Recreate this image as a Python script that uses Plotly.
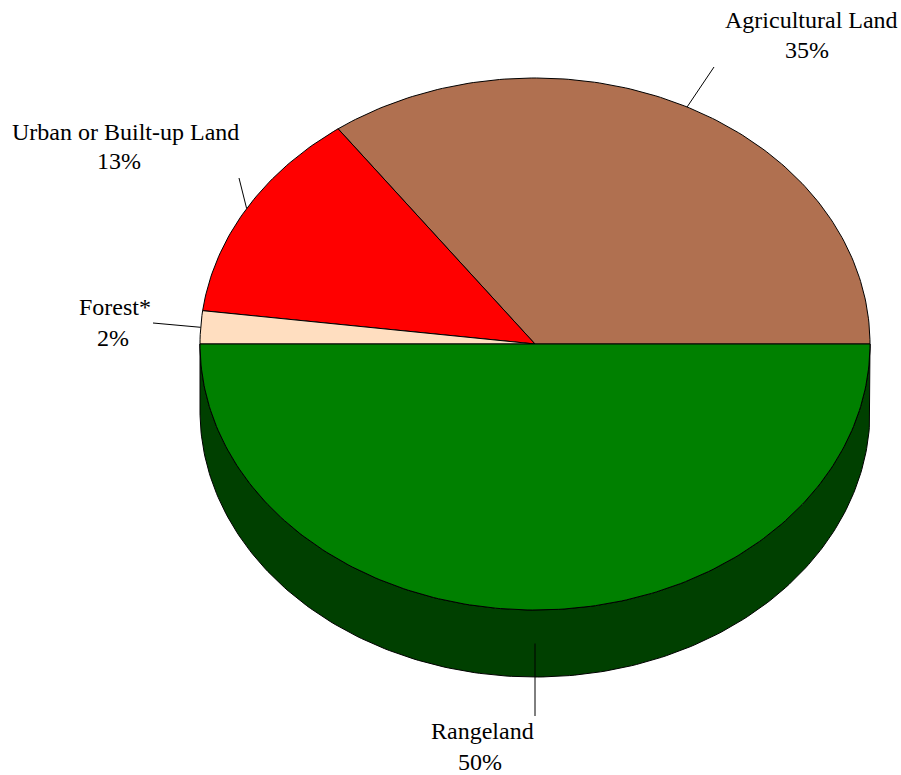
import numpy as np
import plotly.graph_objects as go

# ---- data ----
categories = ["Agricultural Land", "Urban or Built-up Land", "Forest*", "Rangeland"]
values = [35, 13, 2, 50]
top_colors = ["#B07050", "#FF0000", "#FFDEC0", "#008000"]
side_colors = ["#583828", "#800000", "#806F60", "#004000"]

# label placement (layout only): (x, y) of name line and of percent line
name_pos = [(811, 20), (125, 131.5), (114.5, 306.5), (482, 730.5)]
pct_pos = [(807, 50), (119, 160.5), (113, 337.5), (480, 762)]
leader_end = [(714, 67), (239, 178), (153, 323), (535, 716)]

# ---- geometry (layout) ----
W, H = 901, 775
cx, cy = 535, 344
rx, ry = 335, 266
depth = 67

total = float(sum(values))
fr = np.array(values) / total
starts = np.concatenate([[0], np.cumsum(fr)[:-1]]) * 2 * np.pi
ends = np.cumsum(fr) * 2 * np.pi


def ept(t, dy=0.0):
    return cx + rx * np.cos(t), cy - ry * np.sin(t) + dy


fig = go.Figure()

# side walls (visible only for angles in [pi, 2pi])
for i in range(len(values)):
    a0 = max(starts[i], np.pi)
    a1 = min(ends[i], 2 * np.pi)
    if a1 <= a0:
        continue
    t = np.linspace(a0, a1, 200)
    xt, yt = ept(t)
    xb, yb = ept(t[::-1], depth)
    xs = np.concatenate([xt, xb, xt[:1]])
    ys = np.concatenate([yt, yb, yt[:1]])
    fig.add_trace(go.Scatter(x=xs, y=ys, mode="lines", fill="toself",
                             fillcolor=side_colors[i],
                             line=dict(color="black", width=1),
                             hoverinfo="skip", showlegend=False))

# top faces
for i in range(len(values)):
    t = np.linspace(starts[i], ends[i], max(3, int(400 * fr[i])))
    xt, yt = ept(t)
    xs = np.concatenate([[cx], xt, [cx]])
    ys = np.concatenate([[cy], yt, [cy]])
    fig.add_trace(go.Scatter(x=xs, y=ys, mode="lines", fill="toself",
                             fillcolor=top_colors[i],
                             line=dict(color="black", width=1),
                             hoverinfo="skip", showlegend=False))

# leader lines + labels
font = dict(family="Liberation Serif", size=24, color="black")
for i in range(len(values)):
    mid = (starts[i] + ends[i]) / 2
    x0, y0 = ept(mid)
    if np.sin(mid) < 0:
        y0 += depth / 2
    fig.add_shape(type="line", x0=x0, y0=y0, x1=leader_end[i][0], y1=leader_end[i][1],
                  line=dict(color="black", width=1))
    pct = round(100 * fr[i])
    fig.add_annotation(x=name_pos[i][0], y=name_pos[i][1], text=categories[i],
                       showarrow=False, xanchor="center", yanchor="middle", font=font)
    fig.add_annotation(x=pct_pos[i][0], y=pct_pos[i][1], text=f"{pct}%",
                       showarrow=False, xanchor="center", yanchor="middle", font=font)

fig.update_layout(
    width=W, height=H,
    margin=dict(l=0, r=0, t=0, b=0),
    paper_bgcolor="white", plot_bgcolor="white",
    xaxis=dict(range=[0, W], visible=False, fixedrange=True),
    yaxis=dict(range=[H, 0], visible=False, fixedrange=True),
    showlegend=False,
)

fig.write_html(
    "out.html",
    config={"displayModeBar": False, "staticPlot": True},
    post_script="document.body.style.margin='0';document.body.style.overflow='hidden';",
)
